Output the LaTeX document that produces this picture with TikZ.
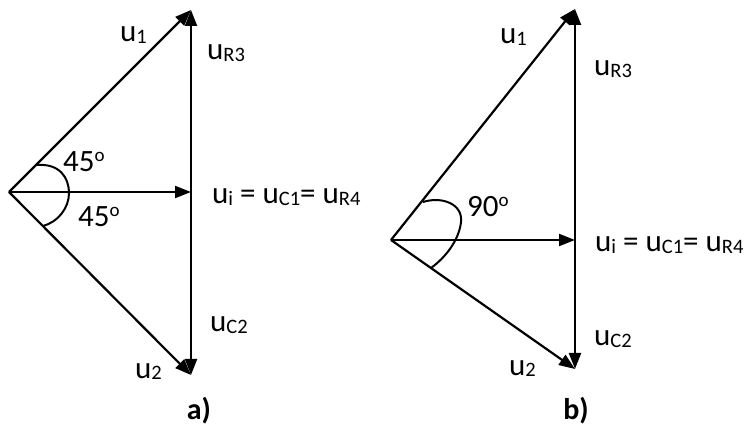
\documentclass[tikz,border=0pt]{standalone}
\usepackage{fontspec}
\setmainfont{Carlito}
\usepackage{tikz}
\usetikzlibrary{arrows.meta,positioning}
\newcommand{\lo}[1]{\raisebox{-1.5pt}{\fontsize{20.5}{21}\selectfont #1}}
\newcommand{\dego}{\raisebox{10.5pt}{\fontsize{19}{19}\selectfont o}}

\begin{document}
\begin{tikzpicture}[x=1pt, y=-1pt, line width=2.2pt,
  vec/.style={-{Triangle[length=16pt,width=12pt]}},
  dvec/.style={{Triangle[length=16pt,width=12pt]}-{Triangle[length=16pt,width=12pt]}},
  lbl/.style={font=\fontsize{31}{33}\selectfont, inner sep=0pt, anchor=base west},
  panel/.style={font=\fontsize{30}{32}\selectfont\bfseries, inner sep=0pt}]
  \useasboundingbox (0,0) rectangle (744,427);
  % a)
  \coordinate (Oa) at (9,192);
  \coordinate (Ta) at (191,10);
  \coordinate (Ma) at (191,192);
  \coordinate (Ba) at (191,375);
  \draw[dvec] (Ba) -- (Ta);
  \foreach \t in {Ta,Ma,Ba} \draw[vec] (Oa) -- (\t);
  \draw[line width=2pt] (36,165) .. controls (60,163) and (69,178) .. (69,193)
    .. controls (69,208) and (58,222) .. (43,226);
  \node[lbl] (u1a) at (119,42) {u\lo{1}};
  \node[lbl] (ur3a) at (206,60) {u\lo{R3}};
  \node[lbl] (phia) at (62,172) {45\dego};
  \node[lbl] (phib) at (77,227) {45\dego};
  \node[lbl] (eqa) at (211,204) {u\lo{i} = u\lo{C1}= u\lo{R4}};
  \node[lbl] (uc2a) at (209,332) {u\lo{C2}};
  \node[lbl] (u2a) at (134,378) {u\lo{2}};
  \node[panel] (capa) at (199,411) {a)};
  % b)
  \coordinate (Ob) at (391,240);
  \coordinate (Tb) at (575,9);
  \coordinate (Mb) at (575,240);
  \coordinate (Bb) at (575,369);
  \draw[dvec] (Bb) -- (Tb);
  \foreach \t in {Tb,Mb,Bb} \draw[vec] (Ob) -- (\t);
  \draw[line width=2pt] (423,202) .. controls (442,196) and (463,204) .. (461,222)
    .. controls (459,240) and (446,257) .. (431,268);
  \node[lbl] (u1b) at (499,44) {u\lo{1}};
  \node[lbl] (ur3b) at (593,76) {u\lo{R3}};
  \node[lbl] (phic) at (466,217) {90\dego};
  \node[lbl] (eqb) at (594,252) {u\lo{i} = u\lo{C1}= u\lo{R4}};
  \node[lbl] (uc2b) at (593,346) {u\lo{C2}};
  \node[lbl] (u2b) at (508,375) {u\lo{2}};
  \node[panel] (capb) at (576,411) {b)};
\end{tikzpicture}
\end{document}
